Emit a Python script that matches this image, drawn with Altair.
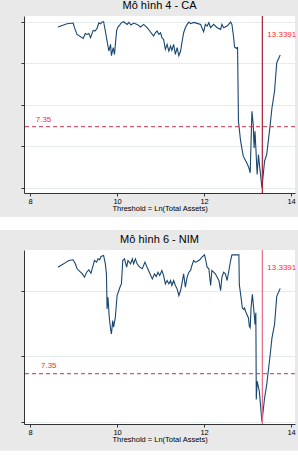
import altair as alt
import pandas as pd

# ---------------- data ----------------
titles = ["Mô hình 4 - CA", "Mô hình 6 - NIM"]
x_title = "Threshold = Ln(Total Assets)"
x_ticks = [8, 10, 12, 14]
threshold = 13.3391
threshold_label = "13.3391"
crit = 7.35
crit_label = "7.35"

y4_ticks = [0, 5, 10, 15, 20]
y6_ticks = [0, 5, 10, 15, 20, 25]

x4 = [8.64, 8.85, 8.99, 9.02, 9.08, 9.22, 9.27, 9.31, 9.35, 9.39,
      9.45, 9.49, 9.54, 9.58, 9.62, 9.66, 9.69, 9.73, 9.77, 9.81,
      9.85, 9.87, 9.91, 9.94, 9.99, 10.02, 10.06, 10.09, 10.15, 10.23,
      10.27, 10.32, 10.38, 10.46, 10.54, 10.61, 10.69, 10.75, 10.81, 10.84,
      10.88, 10.92, 10.96, 11.00, 11.03, 11.07, 11.11, 11.15, 11.19, 11.23,
      11.26, 11.30, 11.34, 11.38, 11.42, 11.46, 11.49, 11.53, 11.57, 11.61,
      11.65, 11.69, 11.76, 11.84, 11.92, 11.95, 11.99, 12.03, 12.07, 12.11,
      12.15, 12.22, 12.30, 12.38, 12.41, 12.45, 12.53, 12.61, 12.64, 12.68,
      12.70, 12.74, 12.77, 12.79, 12.84, 12.90, 12.94, 12.98, 13.03, 13.06,
      13.10, 13.13, 13.15, 13.17, 13.19, 13.22, 13.25, 13.28, 13.33, 13.39,
      13.44, 13.52, 13.56, 13.62, 13.67, 13.75]
y4 = [19.36, 19.76, 19.84, 19.28, 18.47, 17.99, 18.59, 18.47, 18.59, 18.07,
      18.96, 18.88, 19.20, 19.88, 19.76, 20.0, 20.0, 18.88, 17.67, 16.47,
      17.27, 15.90, 16.87, 16.07, 18.96, 19.36, 19.60, 19.84, 20.0, 19.68,
      19.92, 19.60, 19.84, 19.68, 19.36, 19.68, 19.28, 18.88, 18.47, 18.27,
      18.67, 18.88, 18.47, 18.67, 18.07, 17.87, 16.67, 17.27, 16.47, 17.07,
      16.55, 17.27, 16.07, 16.87, 15.90, 16.47, 17.47, 18.67, 19.28, 19.68,
      19.96, 19.76, 19.92, 19.80, 19.68, 19.28, 18.80, 19.68, 19.48, 19.88,
      19.28, 19.68, 19.28, 19.08, 19.68, 19.28, 19.48, 19.96, 19.68, 18.07,
      16.95, 16.8, 16.9, 8.0, 5.6, 3.8, 3.4, 3.0, 2.4, 1.8,
      9.2, 7.6, 4.8, 6.8, 4.8, 1.6, 4.0, 2.4, 0.0, 3.2,
      4.0, 7.6, 9.6, 11.65, 15.06, 16.0]

x6 = [8.64, 8.77, 8.89, 8.99, 9.04, 9.08, 9.20, 9.25, 9.30, 9.35,
      9.40, 9.45, 9.48, 9.53, 9.56, 9.60, 9.63, 9.69, 9.73, 9.755,
      9.77, 9.79, 9.82, 9.85, 9.87, 9.90, 9.92, 9.96, 10.00, 10.04,
      10.08, 10.10, 10.13, 10.17, 10.22, 10.25, 10.31, 10.35, 10.38, 10.42,
      10.46, 10.52, 10.58, 10.64, 10.69, 10.74, 10.81, 10.86, 10.90, 10.94,
      10.98, 11.03, 11.07, 11.11, 11.15, 11.19, 11.23, 11.26, 11.30, 11.34,
      11.38, 11.42, 11.46, 11.49, 11.53, 11.57, 11.61, 11.65, 11.69, 11.72,
      11.76, 11.80, 11.84, 11.90, 11.95, 12.01, 12.04, 12.07, 12.11, 12.15,
      12.18, 12.22, 12.26, 12.30, 12.34, 12.38, 12.41, 12.45, 12.49, 12.53,
      12.57, 12.61, 12.64, 12.80, 12.81, 12.85, 12.88, 12.91, 12.93, 12.96,
      13.02, 13.04, 13.06, 13.08, 13.11, 13.16, 13.17, 13.19, 13.20, 13.22,
      13.27, 13.33, 13.39, 13.44, 13.52, 13.56, 13.62, 13.67, 13.75]
y6 = [23.67, 24.18, 24.69, 24.80, 24.18, 23.42, 22.65, 22.14, 22.90, 23.26,
      22.75, 23.93, 24.69, 24.44, 24.95, 24.80, 25.31, 25.46, 24.18, 22.65,
      17.28, 19.07, 16.00, 14.21, 13.45, 15.49, 14.47, 16.00, 19.33, 20.09,
      20.86, 21.11, 24.69, 24.95, 23.67, 24.69, 24.18, 24.95, 24.18, 24.95,
      24.18, 23.67, 23.42, 24.44, 23.67, 22.90, 21.88, 22.65, 22.24, 22.90,
      22.39, 23.16, 22.39, 21.11, 21.63, 21.11, 21.63, 20.86, 21.63, 20.86,
      20.35, 19.33, 20.09, 21.11, 22.65, 20.60, 22.14, 22.90, 23.16, 23.93,
      24.69, 24.44, 24.54, 24.80, 25.20, 25.56, 24.69, 23.67, 23.42, 20.86,
      23.16, 22.90, 22.65, 22.14, 21.63, 20.09, 22.14, 22.90, 22.65, 21.63,
      23.16, 24.69, 25.56, 25.56, 21.0, 19.0, 17.4, 17.2, 17.4, 16.8,
      15.9, 14.6, 14.4, 17.5, 19.5, 15.9, 14.9, 16.7, 3.4, 6.2,
      4.65, 0.0, 3.6, 5.7, 10.3, 12.8, 14.9, 19.2, 20.4]

# ---------------- style ----------------
FONT = "Liberation Sans"
BG = "#e9e9e9"
NAVY = "#1a476f"
GRID = "#e4ecef"
AXIS = "#333333"
RED_TXT = "#ff2a2a"
DASH = "#c8304e"

W = 271
X_DOMAIN = [7.86, 14.09]


def panel(xs, ys, yticks, ydomain, h, title, vcolor, crit_x, crit_dy,
          thr_y, band):
    df = pd.DataFrame({"x": xs, "y": ys})
    xsc = alt.Scale(domain=X_DOMAIN, nice=False, zero=False)
    ysc = alt.Scale(domain=ydomain, nice=False, zero=False)

    line = alt.Chart(df).mark_line(color=NAVY, strokeWidth=1.1).encode(
        x=alt.X("x:Q", scale=xsc,
                axis=alt.Axis(values=x_ticks, title=x_title, grid=False,
                              domainColor=AXIS, tickColor=AXIS, tickSize=3,
                              labelFontSize=7.5, labelFont=FONT,
                              labelColor="black", labelPadding=1,
                              titleFont=FONT, titleFontSize=7.5,
                              titleFontWeight="normal", titleColor="black",
                              titlePadding=0)),
        y=alt.Y("y:Q", scale=ysc,
                axis=alt.Axis(values=yticks, labels=False, title=None,
                              grid=True, gridColor=GRID, gridWidth=1,
                              domainColor=AXIS, tickColor=AXIS, tickSize=3)),
    )
    hline = alt.Chart(pd.DataFrame({"y": [crit]})).mark_rule(
        color=DASH, strokeDash=[4, 3], strokeWidth=1
    ).encode(y=alt.Y("y:Q", scale=ysc))
    vline = alt.Chart(pd.DataFrame({"x": [threshold]})).mark_rule(
        color=vcolor, strokeWidth=1.2
    ).encode(x=alt.X("x:Q", scale=xsc))
    crit_txt = alt.Chart(pd.DataFrame({"x": [crit_x], "y": [crit],
                                       "t": [crit_label]})).mark_text(
        color=RED_TXT, fontSize=8, font=FONT, align="left",
        baseline="middle", dy=crit_dy
    ).encode(x="x:Q", y="y:Q", text="t:N")
    thr_txt = alt.Chart(pd.DataFrame({"x": [threshold], "y": [thr_y],
                                      "t": [threshold_label]})).mark_text(
        color=RED_TXT, fontSize=8, font=FONT, align="left",
        baseline="middle", dx=5
    ).encode(x="x:Q", y="y:Q", text="t:N")
    white = alt.Chart(pd.DataFrame({"a": [0]})).mark_rect(
        color="white", clip=False
    ).encode(x=alt.value(-24), x2=alt.value(274),
             y=alt.value(band[0]), y2=alt.value(band[1]))

    return alt.layer(line, hline, vline, crit_txt, thr_txt, white).properties(
        width=W, height=h,
        title=alt.TitleParams(title, fontSize=11, fontWeight="normal",
                              font=FONT, color="black", anchor="middle",
                              offset=4),
    )


p4 = panel(x4, y4, y4_ticks, [-0.64, 20.69], 177, titles[0], "#a8203a",
           8.13, -7, 18.4, (201, 214))
p6 = panel(x6, y6, y6_ticks, [-0.35, 26.3], 174, titles[1], "#e86a86",
           8.25, -7.5, 23.57, (200.7, 210.7))

chart = alt.vconcat(p4, p6, spacing=4).properties(
    background=BG, padding=0
).configure_view(fill="white", stroke=None)

chart.save("out.html", embed_options={"renderer": "svg", "actions": False})
